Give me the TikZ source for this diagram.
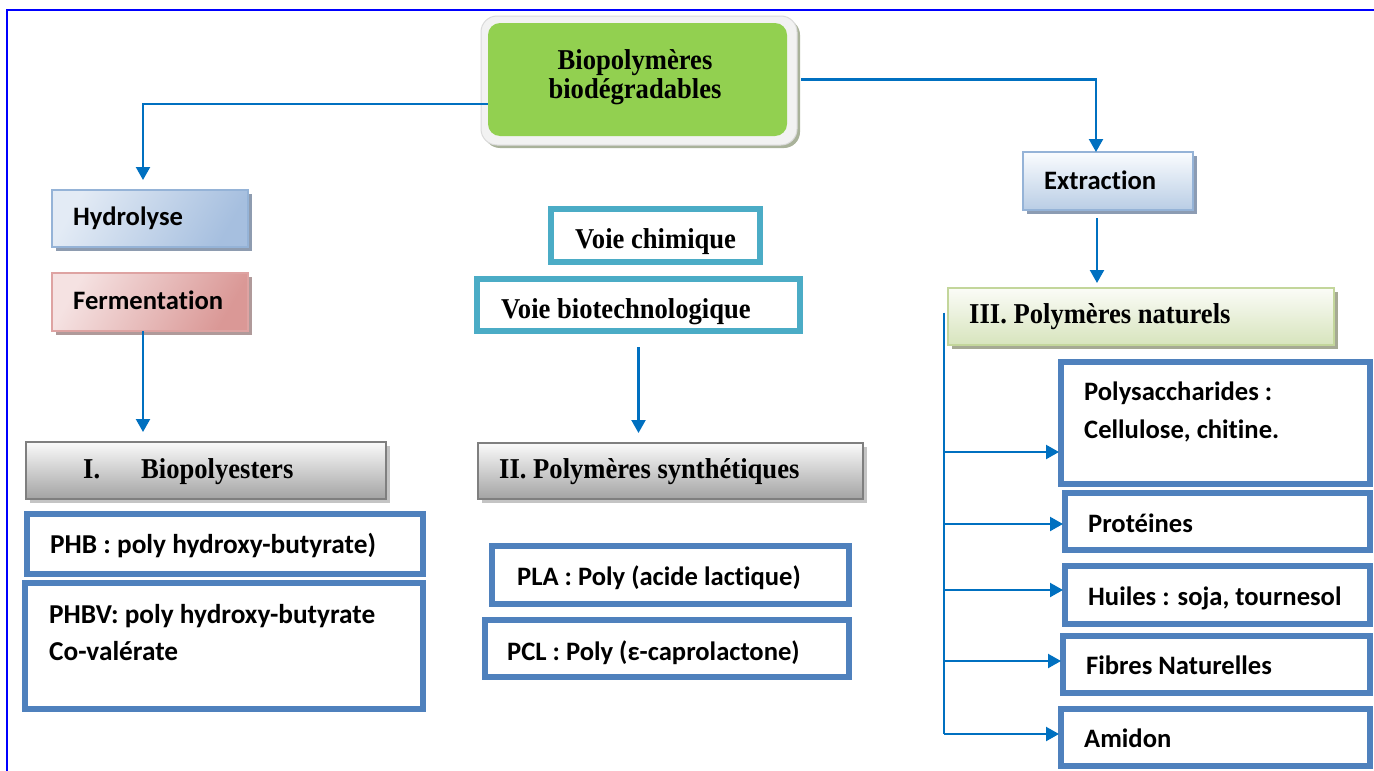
\documentclass[tikz,border=0pt]{standalone}
\usepackage{fontspec}
\setmainfont{Liberation Serif}
\newfontfamily\calib[Ligatures=NoCommon]{Carlito}
\usetikzlibrary{arrows.meta,shadows,calc}
\definecolor{conn}{HTML}{0070C0}
\definecolor{boxblue}{HTML}{4F81BD}
\definecolor{boxteal}{HTML}{4BACC6}
\definecolor{frameblue}{HTML}{0000FF}
\definecolor{greenbox}{HTML}{92D050}
\newcommand{\tallser}[1]{\scalebox{1}[1.08]{#1}}
\begin{document}
\begin{tikzpicture}[x=1pt,y=-1pt,
  conn/.style={draw=conn, line width=2.2pt, -{Triangle[length=13pt,width=14pt]}},
  connline/.style={draw=conn, line width=2.2pt},
  basebox/.style={anchor=north west, inner sep=0pt, outer sep=0pt},
  thickblue/.style={basebox, draw=boxblue, line width=6pt, fill=white},
  thickteal/.style={basebox, draw=boxteal, line width=6pt, fill=white},
  hydbox/.style={basebox, draw=HTML95B3D7, line width=2pt, left color=HTMLE3EBF5, right color=HTMLA6BFDF, shading angle=60,
     general shadow={fill=HTML8E9CB0, shadow xshift=4pt, shadow yshift=-4pt}},
  fermbox/.style={basebox, draw=HTMLDEA3A2, line width=2pt, left color=HTMLF5E2E2, right color=HTMLDA9896, shading angle=60,
     general shadow={fill=HTMLB09A9A, shadow xshift=4pt, shadow yshift=-4pt}},
  extbox/.style={basebox, draw=HTML95B3D7, line width=2pt, top color=HTMLFAFCFE, bottom color=HTMLB9CDE5,
     general shadow={fill=HTML8C9CB3, shadow xshift=4pt, shadow yshift=-4pt}},
  natbox/.style={basebox, draw=HTMLC3D69B, line width=2pt, top color=HTMLFBFCF7, bottom color=HTMLD7E4BD,
     general shadow={fill=HTMLA6AA94, shadow xshift=4pt, shadow yshift=-4pt}},
  graybox/.style={basebox, draw=HTML7F7F7F, line width=2pt, top color=HTMLFAFAFA, bottom color=HTMLA3A3A3,
     general shadow={fill=HTMLC4C4C4, shadow xshift=4pt, shadow yshift=-4pt}},
  serif/.style={font=\fontsize{26.6}{30}\selectfont\bfseries, anchor=base west, inner sep=0pt},
  calt/.style={font=\calib\fontsize{26.6}{30}\selectfont\bfseries, anchor=base west, inner sep=0pt},
  caltl/.style={font=\calib\fontsize{27.3}{30}\selectfont\bfseries, anchor=base west, inner sep=0pt},
]
\definecolor{HTML95B3D7}{HTML}{95B3D7}
\definecolor{HTMLE3EBF5}{HTML}{E3EBF5}
\definecolor{HTMLA6BFDF}{HTML}{A6BFDF}
\definecolor{HTML8E9CB0}{HTML}{8E9CB0}
\definecolor{HTMLDEA3A2}{HTML}{DEA3A2}
\definecolor{HTMLF5E2E2}{HTML}{F5E2E2}
\definecolor{HTMLDA9896}{HTML}{DA9896}
\definecolor{HTMLB09A9A}{HTML}{B09A9A}
\definecolor{HTMLFAFCFE}{HTML}{FAFCFE}
\definecolor{HTMLB9CDE5}{HTML}{B9CDE5}
\definecolor{HTML8C9CB3}{HTML}{8C9CB3}
\definecolor{HTMLC3D69B}{HTML}{C3D69B}
\definecolor{HTMLFBFCF7}{HTML}{FBFCF7}
\definecolor{HTMLD7E4BD}{HTML}{D7E4BD}
\definecolor{HTMLA6AA94}{HTML}{A6AA94}
\definecolor{HTML7F7F7F}{HTML}{7F7F7F}
\definecolor{HTMLFAFAFA}{HTML}{FAFAFA}
\definecolor{HTMLA3A3A3}{HTML}{A3A3A3}
\definecolor{HTMLC4C4C4}{HTML}{C4C4C4}
\definecolor{cbframe}{HTML}{F2F2F2}
\definecolor{cbframeline}{HTML}{DADADA}
\definecolor{cbshadow}{HTML}{A9B29A}

\useasboundingbox (0,0) rectangle (1374,771);
\fill[white] (0,0) rectangle (1374,771);

% page frame
\draw[frameblue, line width=2pt] (7,771) -- (7,10) -- (1374,10);

% central box
\node[basebox, draw=cbframeline, line width=1pt, fill=cbframe, rounded corners=16pt,
  minimum width=316pt, minimum height=129pt,
  general shadow={fill=cbshadow, shadow xshift=3pt, shadow yshift=-3pt}] (cbf) at (481,16) {};
\node[basebox, fill=greenbox, rounded corners=12pt, minimum width=299pt, minimum height=113pt] (cb) at (488,23) {};
\node[serif, anchor=base] (tcb1) at (635,69) {\tallser{Biopolymères}};
\node[serif, anchor=base] (tcb2) at (635,98) {\tallser{biodégradables}};

% left column
\node[hydbox, minimum width=196pt, minimum height=57pt] (hyd) at (52,190) {};
\node[calt] (thyd) at (73,225) {Hydrolyse};
\node[fermbox, minimum width=196pt, minimum height=58pt] (ferm) at (52,273) {};
\node[calt] (tferm) at (73,309) {Fermentation};
\node[graybox, minimum width=360pt, minimum height=57pt] (bpe) at (26,442) {};
\node[serif] (tbpe) at (83,478) {\tallser{\makebox[58pt][l]{I.}Biopolyesters}};
\node[thickblue, minimum width=396pt, minimum height=60pt] (phb) at (27,514) {};
\node[caltl] (tphb) at (50,553) {PHB : poly hydroxy-butyrate)};
\node[thickblue, minimum width=398pt, minimum height=126pt] (phbv) at (25,583) {};
\node[caltl] (tphbv1) at (49,623) {PHBV: poly hydroxy-butyrate};
\node[caltl] (tphbv2) at (49,660) {Co-valérate};

% middle column
\node[thickteal, minimum width=209pt, minimum height=53pt] (vchim) at (551,209) {};
\node[serif] (tvchim) at (575,248) {\tallser{Voie chimique}};
\node[thickteal, minimum width=323pt, minimum height=52pt] (vbio) at (477,279) {};
\node[serif] (tvbio) at (501,318) {\tallser{Voie biotechnologique}};
\node[graybox, minimum width=385pt, minimum height=56pt] (psyn) at (478,443) {};
\node[serif] (tpsyn) at (499,478) {\tallser{II. Polymères synthétiques}};
\node[thickblue, minimum width=357pt, minimum height=58pt] (pla) at (492,546) {};
\node[calt] (tpla) at (517,585) {PLA : Poly (acide lactique)};
\node[thickblue, minimum width=364pt, minimum height=57pt] (pcl) at (485,620) {};
\node[calt] (tpcl) at (507,660) {PCL : Poly (ε-caprolactone)};

% right column
\node[extbox, minimum width=170pt, minimum height=58pt] (ext) at (1023,152) {};
\node[calt] (text) at (1044,189) {Extraction};
\node[natbox, minimum width=386pt, minimum height=57pt] (nat) at (948,288) {};
\node[serif] (tnat) at (969,323) {\tallser{III. Polymères naturels}};
\node[thickblue, minimum width=309pt, minimum height=122pt] (poly) at (1061,362) {};
\node[calt] (tpoly1) at (1084,400) {Polysaccharides :};
\node[calt] (tpoly2) at (1084,438) {Cellulose, chitine.};
\node[thickblue, minimum width=305pt, minimum height=57pt] (prot) at (1065,493) {};
\node[calt] (tprot) at (1088,532) {Protéines};
\node[thickblue, minimum width=305pt, minimum height=58pt] (huil) at (1065,566) {};
\node[calt] (thuil) at (1088,605) {Huiles : soja, tournesol};
\node[thickblue, minimum width=307pt, minimum height=57pt] (fib) at (1063,636) {};
\node[calt] (tfib) at (1086,674) {Fibres Naturelles};
\node[thickblue, minimum width=309pt, minimum height=57pt] (ami) at (1061,709) {};
\node[calt] (tami) at (1084,747) {Amidon};

% connectors
\draw[conn] ([yshift=-24.5pt]cb.west) -| ([xshift=-7pt,yshift=10pt]hyd.north);
\draw[conn] ([xshift=14pt]cb.east) -| ([xshift=-12pt]ext.north);
\draw[conn] ([xshift=-7pt]ferm.south) -- ([xshift=-7pt,yshift=10pt]ferm.south |- bpe.north);
\draw[conn] ([yshift=-16pt]vbio.south) -- ([yshift=10pt]vbio.south |- psyn.north);
\draw[conn] ([xshift=-11pt,yshift=-8pt]ext.south) -- ([xshift=-11pt,yshift=5pt]ext.south |- nat.north);

\coordinate (bus) at ([xshift=-4pt,yshift=4pt]nat.west);
\draw[connline] (bus) -- ([yshift=3.5pt]bus |- ami.west);
\draw[conn] ([yshift=-29pt]bus |- poly.west) -- ([xshift=-2pt,yshift=-29pt]poly.west);
\draw[conn] ([yshift=-2.5pt]bus |- prot.west) -- ([xshift=-2pt,yshift=-2.5pt]prot.west);
\draw[conn] ([yshift=5pt]bus |- huil.west) -- ([xshift=-2pt,yshift=5pt]huil.west);
\draw[conn] ([yshift=3.5pt]bus |- fib.west) -- ([xshift=-2pt,yshift=3.5pt]fib.west);
\draw[conn] ([yshift=3.5pt]bus |- ami.west) -- ([xshift=-2pt,yshift=3.5pt]ami.west);
\end{tikzpicture}
\end{document}
